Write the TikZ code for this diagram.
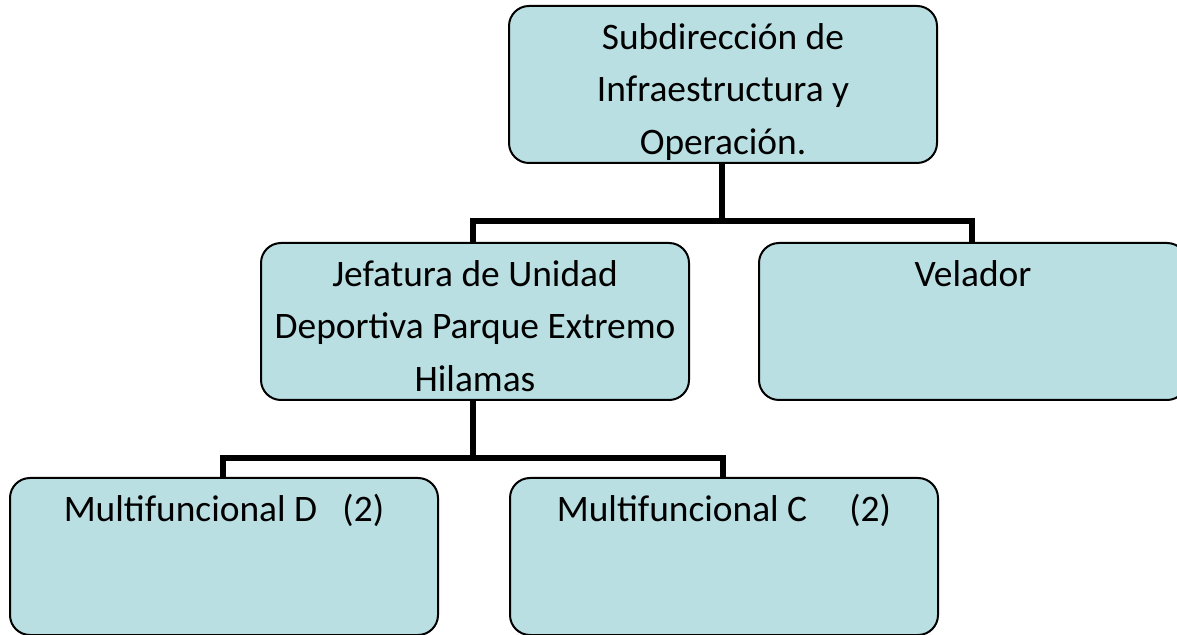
\documentclass[tikz,border=0pt]{standalone}
\usepackage{fontspec}
\setmainfont{Carlito}
\usetikzlibrary{calc}
\definecolor{boxfill}{RGB}{185,223,226}
\tikzset{orgbox/.style={draw=black, line width=1pt, fill=boxfill, rounded corners=10pt,
    inner sep=0pt, anchor=north west},
  conn/.style={line width=3pt}}
\newcommand{\boxtxt}[1]{\parbox[c][78.5pt][t]{214pt}{\centering
  \fontsize{18.7pt}{26.25pt}\selectfont\rule{0pt}{21.75pt}#1}}

\begin{document}
\begin{tikzpicture}[x=0.5pt, y=-0.5pt]
			\useasboundingbox (0, 0) rectangle (1177, 635);
			\coordinate (bus1) at (722, 221);
			\coordinate (bus2) at (473, 458);
			\draw [conn] (722, 163)--(bus1);
			\draw [conn] (473, 242) |- (bus1) -| (972, 242);
			\draw [conn] (473, 397)--(bus2);
			\draw [conn] (223, 477) |- (bus2) -| (723, 477);
			\node [orgbox] (subd) at (508, 5) {\boxtxt{Subdirección de\\ Infraestructura y\\ Operación.}};
			\node [orgbox] (jefa) at (260, 242) {\boxtxt{Jefatura de Unidad\\ Deportiva Parque Extremo\\ Hilamas}};
			\node [orgbox] (vela) at (758, 242) {\boxtxt{Velador}};
			\node [orgbox] (multd) at (9, 477) {\boxtxt{Multifuncional D\ \ \ (2)}};
			\node [orgbox] (multc) at (509, 477) {\boxtxt{Multifuncional C\ \ \ \ \ (2)}};
		\end{tikzpicture}
\end{document}
